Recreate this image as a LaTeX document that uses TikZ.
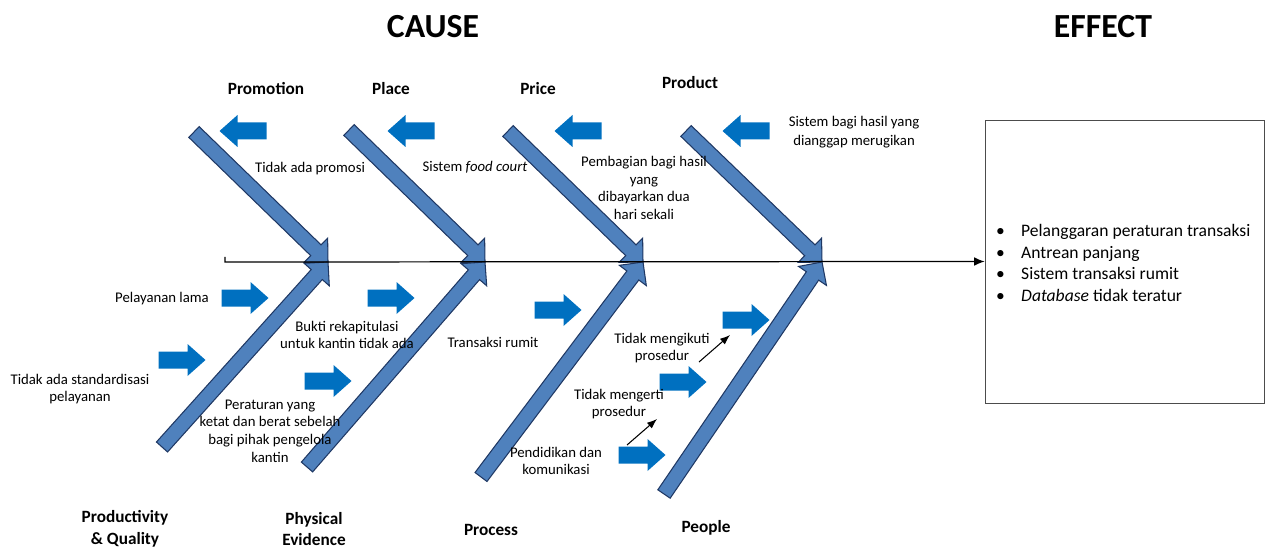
\documentclass[tikz,border=0pt]{standalone}
\usepackage{fontspec}
\setmainfont{Carlito}
\usetikzlibrary{arrows.meta,calc}
\definecolor{bonefill}{RGB}{79,129,189}
\definecolor{boneline}{RGB}{31,56,100}
\definecolor{ptrblue}{RGB}{0,112,192}
% one fishbone: #1 tail coordinate, #2 tip coordinate (on the spine)
\newcommand{\bone}[2]{%
  \coordinate (hb) at ($(#2)!9.6pt!(#1)$);
  \filldraw[bonestyle] (#2) -- ($(hb)!9.6pt!90:(#2)$) -- ($(hb)!4.25pt!90:(#2)$)
    -- ($(#1)!4.25pt!90:(hb)$) -- ($(#1)!4.25pt!-90:(hb)$)
    -- ($(hb)!4.25pt!-90:(#2)$) -- ($(hb)!9.6pt!-90:(#2)$) -- cycle;}

\begin{document}
\begin{tikzpicture}[x=0.02cm, y=-0.02cm, font=\fontsize{8.4}{10}\selectfont, >=Latex,
  hdr/.style={font=\fontsize{19.2}{22}\selectfont\bfseries},
  lbl/.style={font=\fontsize{9.8}{12.4}\selectfont\bfseries, align=center},
  txt/.style={align=center},
  bonestyle/.style={fill=bonefill, draw=boneline, line width=0.6pt, line join=miter},
  rptr/.pic={\fill[ptrblue] (-23.5,-8.5) -- (5.5,-8.5) -- (5.5,-16) -- (23.5,0)
     -- (5.5,16) -- (5.5,8.5) -- (-23.5,8.5) -- cycle;},
  lptr/.pic={\fill[ptrblue] (23.5,-8.5) -- (-5.5,-8.5) -- (-5.5,-16) -- (-23.5,0)
     -- (-5.5,16) -- (-5.5,8.5) -- (23.5,8.5) -- cycle;}]
\useasboundingbox (0,0) rectangle (1266,550);

% --- headings ---
\node[hdr] (cause) at (433,27) {CAUSE};
\node[hdr] (effhdr) at (1103,27) {EFFECT};

% --- bones: tails and tips ---
\coordinate (promT) at (194,132); \coordinate (promH) at (328,262);
\coordinate (placT) at (349,130); \coordinate (placH) at (485,262);
\coordinate (pricT) at (508,131); \coordinate (pricH) at (643,262);
\coordinate (prodT) at (686,131); \coordinate (prodH) at (822,262);
\coordinate (qualT) at (162,447); \coordinate (qualH) at (328,262);
\coordinate (physT) at (307,467); \coordinate (physH) at (485,262);
\coordinate (procT) at (481,477); \coordinate (procH) at (643,262);
\coordinate (peopT) at (664,494); \coordinate (peopH) at (822,262);
\foreach \b in {prom,plac,pric,prod,qual,phys,proc,peop}{ \bone{\b T}{\b H} }

% --- effect box and spine ---
\node[draw=black!70, line width=0.5pt, minimum width=5.58cm, minimum height=5.66cm]
  (effect) at (1124.5,261.5) {};
\coordinate (spineL) at (225,262);
\draw[line width=0.7pt, -{Latex[length=6pt,width=5pt]}] (225,257) -- (spineL) -- (effect.west);
\node[anchor=west, align=left, font=\fontsize{10}{12.3}\selectfont] (effects) at (990,263)
  {\makebox[0.5cm][l]{\textbullet}Pelanggaran peraturan transaksi\\
   \makebox[0.5cm][l]{\textbullet}Antrean panjang\\
   \makebox[0.5cm][l]{\textbullet}Sistem transaksi rumit\\
   \makebox[0.5cm][l]{\textbullet}\textit{Database} tidak teratur};

% --- category labels ---
\node[lbl] (promotion) at (266,89) {Promotion};
\node[lbl] (place) at (391,89) {Place};
\node[lbl] (price) at (538,89) {Price};
\node[lbl] (product) at (690,83) {Product};
\node[lbl] (quality) at (125,529) {Productivity\\\& Quality};
\node[lbl] (physical) at (314,529) {Physical\\Evidence};
\node[lbl] (process) at (491,530) {Process};
\node[lbl] (people) at (706,528) {People};

% --- cause pointers ---
\foreach \p in {(243,131),(411,131),(578,131),(746,131)}{ \pic at \p {lptr}; }
\foreach \p in {(245,298),(182,360),(391,298),(328,381),(558,310),(746,320),(683,382),(642,455)}{ \pic at \p {rptr}; }

% --- causes ---
\node[txt] (nopromo) at (310,169) {Tidak ada promosi};
\node[txt] (foodcourt) at (475,167) {Sistem \textit{food court}};
\node[txt, font=\fontsize{8.4}{10.1}\selectfont] (bagi) at (644,188) {Pembagian bagi hasil\\yang\\dibayarkan dua\\hari sekali};
\node[txt, font=\fontsize{8.4}{10.8}\selectfont] (rugi) at (854,132) {Sistem bagi hasil yang\\dianggap merugikan};
\node[txt] (lama) at (162,299) {Pelayanan lama};
\node[txt] (standar) at (80,389) {Tidak ada standardisasi\\pelayanan};
\node[txt] (bukti) at (347,335) {Bukti rekapitulasi\\untuk kantin tidak ada};
\node[txt] (aturan) at (270,431) {Peraturan yang\\ketat dan berat sebelah\\bagi pihak pengelola\\kantin};
\node[txt] (rumit) at (493,342) {Transaksi rumit};
\node[txt] (ikut) at (662,348) {Tidak mengikuti\\prosedur};
\node[txt] (erti) at (619,404) {Tidak mengerti\\prosedur};
\node[txt] (didik) at (556,461) {Pendidikan dan\\komunikasi};

% --- small links between causes ---
\coordinate (didikE) at (627,445); \coordinate (ertiE) at (657,419);
\coordinate (ertiS) at (699,362); \coordinate (ikutE) at (730,335);
\draw[->, line width=0.6pt] (didikE) -- (ertiE);
\draw[->, line width=0.6pt] (ertiS) -- (ikutE);
\end{tikzpicture}
\end{document}
